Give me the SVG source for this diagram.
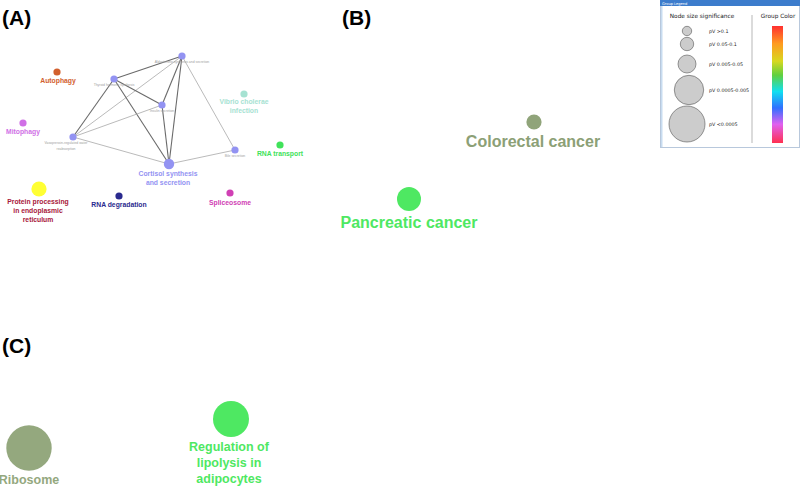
<svg xmlns="http://www.w3.org/2000/svg" width="800" height="486" viewBox="0 0 800 486">
<defs>
<style>
.pl{font-family:"Liberation Sans",Arial,sans-serif;font-weight:bold;font-size:21px;fill:#000}
.lb{font-family:"Liberation Sans",Arial,sans-serif;font-weight:bold;font-size:6.8px;text-anchor:middle}
.sm{font-family:"Liberation Sans",Arial,sans-serif;font-size:3.4px;fill:#a0a0a0;text-anchor:middle}
.big{font-family:"Liberation Sans",Arial,sans-serif;font-weight:bold;font-size:16px;text-anchor:middle}
.mid{font-family:"Liberation Sans",Arial,sans-serif;font-weight:bold;font-size:12.5px;text-anchor:middle}
.lg{font-family:"DejaVu Sans",sans-serif;font-size:5.8px;fill:#222}
.lgs{font-family:"DejaVu Sans",sans-serif;font-size:4.8px;fill:#222}
.e1{stroke:#6a6a6a;stroke-width:1.1;fill:none}
.e2{stroke:#a8a8a8;stroke-width:0.8;fill:none}
.lc{fill:#cccccc;stroke:#555;stroke-width:0.6}
.pur{fill:#9393f2}
</style>
<linearGradient id="rb" x1="0" y1="0" x2="0" y2="1">
<stop offset="0" stop-color="#ff3030"/>
<stop offset="0.15" stop-color="#ff9a20"/>
<stop offset="0.3" stop-color="#d8d820"/>
<stop offset="0.42" stop-color="#60d040"/>
<stop offset="0.56" stop-color="#10e0f0"/>
<stop offset="0.7" stop-color="#3070ff"/>
<stop offset="0.84" stop-color="#e060f0"/>
<stop offset="1" stop-color="#ff3050"/>
</linearGradient>
</defs>
<rect width="800" height="486" fill="#fff"/>

<text class="pl" x="2" y="25">(A)</text>
<text class="pl" x="342" y="25">(B)</text>
<text class="pl" x="2" y="353">(C)</text>

<g id="connectors">
<line class="e1" x1="182" y1="56" x2="114" y2="79"/>
<line class="e1" x1="182" y1="56" x2="162" y2="105"/>
<line class="e1" x1="182" y1="56" x2="169" y2="164"/>
<line class="e2" x1="182" y1="56" x2="73" y2="137"/>
<line class="e2" x1="182" y1="56" x2="235" y2="150"/>
<line class="e1" x1="114" y1="79" x2="162" y2="105"/>
<line class="e1" x1="114" y1="79" x2="73" y2="137"/>
<line class="e1" x1="114" y1="79" x2="169" y2="164"/>
<line class="e2" x1="162" y1="105" x2="73" y2="137"/>
<line class="e1" x1="162" y1="105" x2="169" y2="164"/>
<line class="e2" x1="73" y1="137" x2="169" y2="164"/>
<line class="e2" x1="169" y1="164" x2="235" y2="150"/>
</g>

<g id="aldosterone"><circle class="pur" cx="182" cy="56" r="3.6"/><text class="sm" x="182" y="63">Aldosterone synthesis and secretion</text></g>
<g id="thyroid"><circle class="pur" cx="114" cy="79" r="3.6"/><text class="sm" x="114" y="86">Thyroid hormone synthesis</text></g>
<g id="insulin"><circle class="pur" cx="162" cy="105" r="3.6"/><text class="sm" x="162" y="112">Insulin secretion</text></g>
<g id="vasopressin"><circle class="pur" cx="73" cy="137" r="3.6"/><text class="sm" x="66" y="144">Vasopressin-regulated water</text><text class="sm" x="66" y="150">reabsorption</text></g>
<g id="bile"><circle class="pur" cx="235" cy="150" r="3.6"/><text class="sm" x="235" y="157">Bile secretion</text></g>
<g id="cortisol"><circle class="pur" cx="169" cy="164" r="5.2"/><text class="lb" x="168" y="176" fill="#9393f2">Cortisol synthesis</text><text class="lb" x="168" y="185" fill="#9393f2">and secretion</text></g>
<g id="autophagy"><circle cx="57" cy="72" r="3.6" fill="#d2602e"/><text class="lb" x="58" y="83" fill="#d2602e">Autophagy</text></g>
<g id="vibrio"><circle cx="244" cy="94" r="3.6" fill="#a6e2d2"/><text class="lb" x="244" y="104" fill="#a6e2d2">Vibrio cholerae</text><text class="lb" x="244" y="113" fill="#a6e2d2">infection</text></g>
<g id="mitophagy"><circle cx="23" cy="123" r="3.6" fill="#d070e6"/><text class="lb" x="23" y="134" fill="#d070e6">Mitophagy</text></g>
<g id="rnatransport"><circle cx="280" cy="145" r="3.6" fill="#40e25a"/><text class="lb" x="280" y="156" fill="#40e25a">RNA transport</text></g>
<g id="protein"><circle cx="39" cy="189" r="7.6" fill="#ffff33"/><text class="lb" x="38" y="204" fill="#a8183a">Protein processing</text><text class="lb" x="38" y="213" fill="#a8183a">in endoplasmic</text><text class="lb" x="38" y="222" fill="#a8183a">reticulum</text></g>
<g id="rnadeg"><circle cx="119" cy="196" r="3.6" fill="#2a2a8e"/><text class="lb" x="119" y="207" fill="#2a2a8e">RNA degradation</text></g>
<g id="spliceosome"><circle cx="230" cy="193" r="3.6" fill="#d040b4"/><text class="lb" x="230" y="205" fill="#d040b4">Spliceosome</text></g>

<g id="colorectal"><circle cx="534" cy="122" r="7.6" fill="#90a47a"/><text class="big" x="533" y="147" fill="#8ca076">Colorectal cancer</text></g>
<g id="pancreatic"><circle cx="409" cy="199" r="12" fill="#4ee862"/><text class="big" x="409" y="228" fill="#4ee862">Pancreatic cancer</text></g>

<g id="ribosome"><circle cx="29" cy="448" r="22.7" fill="#94a87e"/><text class="mid" x="29" y="484" fill="#94a87e">Ribosome</text></g>
<g id="lipolysis"><circle cx="231" cy="419" r="18" fill="#4ee862"/><text class="mid" x="229" y="451" fill="#4ee862">Regulation of</text><text class="mid" x="229" y="467" fill="#4ee862">lipolysis in</text><text class="mid" x="229" y="483" fill="#4ee862">adipocytes</text></g>

<g id="legend">
<rect x="660.5" y="0.5" width="139" height="147" fill="#fff" stroke="#b8c8dc" stroke-width="1"/>
<rect x="660" y="0" width="140" height="6" fill="#3c7ccc"/>
<text x="662" y="4.6" font-family="'DejaVu Sans',sans-serif" font-size="3.6" fill="#fff">Group Legend</text>
<rect x="661" y="6" width="1.5" height="141" fill="#c8dcf0"/>
<text class="lg" x="702" y="18" text-anchor="middle">Node size significance</text>
<text class="lg" x="778" y="18" text-anchor="middle">Group Color</text>
<line x1="752" y1="15" x2="752" y2="143" stroke="#999" stroke-width="0.7"/>
<circle class="lc" cx="687" cy="31" r="4.7"/>
<circle class="lc" cx="687" cy="44" r="6.7"/>
<circle class="lc" cx="687" cy="64" r="9"/>
<circle class="lc" cx="689" cy="90" r="14.7"/>
<circle class="lc" cx="687" cy="124" r="18"/>
<text class="lgs" x="709" y="33">pV &gt;0.1</text>
<text class="lgs" x="709" y="46">pV 0.05-0.1</text>
<text class="lgs" x="709" y="66">pV 0.005-0.05</text>
<text class="lgs" x="709" y="92">pV 0.0005-0.005</text>
<text class="lgs" x="709" y="126">pV &lt;0.0005</text>
<rect x="772" y="26" width="11" height="117" fill="url(#rb)"/>
</g>
</svg>
